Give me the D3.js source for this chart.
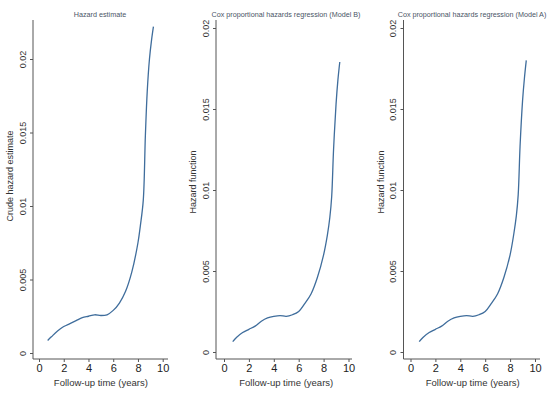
<!DOCTYPE html>
<html><head><meta charset="utf-8">
<script src="https://cdn.jsdelivr.net/npm/d3@7"></script>
<style>body{margin:0;background:#fff}svg{display:block}</style>
</head><body>
<svg id="chart" width="550" height="395"></svg>
<script>
// ---- data ----
const titles = ["Hazard estimate", "Cox proportional hazards regression (Model B)", "Cox proportional hazards regression (Model A)"];
const yTitles = ["Crude hazard estimate", "Hazard function", "Hazard function"];
const xTitle = "Follow-up time (years)";
const xTicks = [0, 2, 4, 6, 8, 10];
const yTicks1 = [0, 0.005, 0.01, 0.015, 0.02];
const yTickLabels = ["0", "0.005", "0.01", "0.015", "0.02"];

const years1  = [0.7, 1.0, 1.5, 2.0, 2.5, 3.0, 3.5, 4.0, 4.5, 5.0, 5.5, 6.0, 6.5, 7.0, 7.5, 8.0, 8.2, 8.43, 8.6, 8.75, 8.93, 9.1, 9.25];
const hazard1 = [0.00085, 0.0011, 0.0015, 0.0018, 0.0020, 0.0022, 0.0024, 0.0025, 0.0026, 0.00255, 0.0026, 0.0029, 0.0034, 0.0042, 0.0055, 0.0075, 0.0087, 0.0104, 0.0148, 0.0178, 0.0200, 0.0213, 0.0222];

const years2  = [0.7, 1.0, 1.5, 2.0, 2.5, 3.0, 3.5, 4.0, 4.5, 5.0, 5.5, 6.0, 6.5, 7.0, 7.5, 8.0, 8.3, 8.5, 8.65, 8.8, 9.0, 9.15, 9.3];
const hazard2 = [0.00064, 0.0009, 0.0012, 0.0014, 0.0016, 0.0019, 0.0021, 0.0022, 0.00225, 0.0022, 0.0023, 0.0025, 0.0030, 0.0036, 0.0046, 0.0060, 0.0072, 0.0083, 0.0096, 0.0125, 0.0153, 0.0168, 0.0179];

const years3  = [0.7, 1.0, 1.5, 2.0, 2.5, 3.0, 3.5, 4.0, 4.5, 5.0, 5.5, 6.0, 6.5, 7.0, 7.5, 8.0, 8.3, 8.5, 8.65, 8.8, 9.0, 9.15, 9.3];
const hazard3 = [0.00064, 0.0009, 0.0012, 0.0014, 0.0016, 0.0019, 0.0021, 0.0022, 0.00225, 0.0022, 0.0023, 0.0025, 0.0030, 0.0036, 0.0046, 0.0060, 0.0073, 0.0084, 0.0097, 0.0127, 0.0155, 0.0169, 0.0180];

// ---- layout ----
const panels = [
  {years: years1, hazard: hazard1, x0: 39, x10: 162.7, y0: 353, y02: 59, axX: 33, axXEnd: 168, axTop: 20, titleX: 100},
  {years: years2, hazard: hazard2, x0: 224, x10: 348.5, y0: 352, y02: 28, axX: 216, axXEnd: 352, axTop: 20, titleX: 286},
  {years: years3, hazard: hazard3, x0: 410.5, x10: 535, y0: 352, y02: 28, axX: 403.5, axXEnd: 540, axTop: 20, titleX: 472}
];
const axY = 359;
const lineColor = "#3f6d9c";
const axisColor = "#555";
const textColor = "#333";
const font = "Liberation Sans, Arial, sans-serif";

const svg = d3.select("#chart");

panels.forEach((p, i) => {
  const x = d3.scaleLinear().domain([0, 10]).range([p.x0, p.x10]);
  const y = d3.scaleLinear().domain([0, 0.02]).range([p.y0, p.y02]);
  const g = svg.append("g");

  // axis lines
  g.append("line").attr("x1", p.axX).attr("x2", p.axX).attr("y1", p.axTop).attr("y2", axY)
    .attr("stroke", axisColor).attr("stroke-width", 1);
  g.append("line").attr("x1", p.axX).attr("x2", p.axXEnd).attr("y1", axY).attr("y2", axY)
    .attr("stroke", axisColor).attr("stroke-width", 1);

  // x axis ticks
  const xa = d3.axisBottom(x).tickValues(xTicks).tickSize(3).tickPadding(2).tickFormat(d3.format("d"));
  const gx = g.append("g").attr("transform", `translate(0,${axY})`).call(xa);
  gx.select(".domain").remove();
  gx.selectAll(".tick line").attr("stroke", axisColor);
  gx.selectAll(".tick text").attr("font-family", font).attr("font-size", 11).attr("fill", "#222").attr("dy", "0.7em");

  // y axis ticks
  const ya = d3.axisLeft(y).tickValues(yTicks1).tickSize(3).tickFormat((d, k) => yTickLabels[k]);
  const gy = g.append("g").attr("transform", `translate(${p.axX},0)`).call(ya);
  gy.select(".domain").remove();
  gy.selectAll(".tick line").attr("stroke", axisColor);
  gy.selectAll(".tick text")
    .attr("font-family", font).attr("font-size", 9).attr("fill", textColor)
    .attr("x", null).attr("dy", null)
    .attr("text-anchor", "middle")
    .attr("transform", "translate(-7.5,0) rotate(-90)")
    .attr("y", 0);

  // curve
  const line = d3.line().x((d, k) => x(p.years[k])).y((d, k) => y(p.hazard[k])).curve(d3.curveCatmullRom.alpha(0.5));
  g.append("path").datum(p.hazard).attr("d", line)
    .attr("fill", "none").attr("stroke", lineColor).attr("stroke-width", 1.3);

  // titles
  g.append("text").attr("x", p.titleX).attr("y", 17).attr("text-anchor", "middle")
    .attr("font-family", font).attr("font-size", 7.2).attr("fill", "#4a5566").text(titles[i]);
  g.append("text").attr("x", (p.x0 + p.x10) / 2).attr("y", 386).attr("text-anchor", "middle")
    .attr("font-family", font).attr("font-size", 9.5).attr("fill", textColor).text(xTitle);
  const ytx = p.axX - 20;
  g.append("text").attr("transform", `translate(${ytx},${i === 0 ? 176 : 182}) rotate(-90)`)
    .attr("text-anchor", "middle").attr("font-family", font).attr("font-size", 9).attr("fill", textColor)
    .text(yTitles[i]);
});
</script>
</body></html>
